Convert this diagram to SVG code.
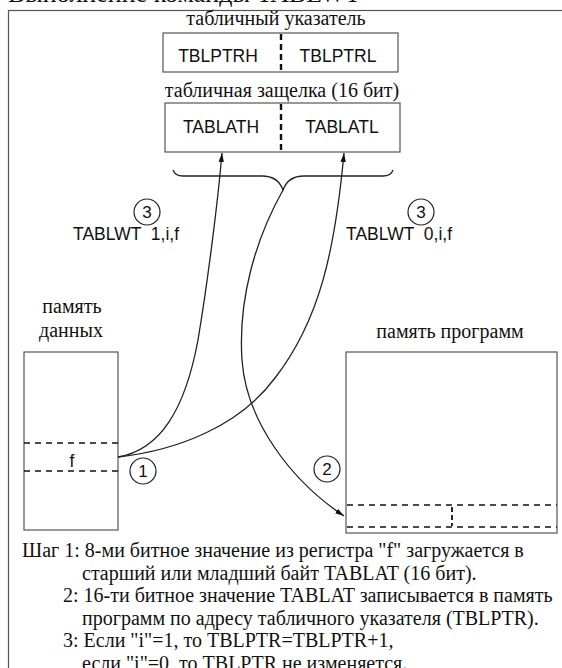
<svg xmlns="http://www.w3.org/2000/svg" width="562" height="668" viewBox="0 0 562 668">
<style>
.serif{font-family:"Liberation Serif","Times New Roman",serif;fill:#111;}
.sans{font-family:"Liberation Sans",Arial,sans-serif;fill:#111;}
.box{fill:#fff;stroke:#555;stroke-width:1.2;}
.dash{stroke:#111;stroke-width:1.6;stroke-dasharray:6 5;fill:none;}
.vdash{stroke:#111;stroke-width:2.4;stroke-dasharray:6 4;fill:none;}
.curve{fill:none;stroke:#222;stroke-width:1.3;}
.circ{fill:#fff;stroke:#222;stroke-width:1.2;}
</style>
<defs>
<marker id="arr" viewBox="0 0 10 6" refX="10" refY="3" markerWidth="9" markerHeight="6" markerUnits="userSpaceOnUse" orient="auto">
<path d="M0,0 L10,3 L0,6 z" fill="#111"/>
</marker>
</defs>
<rect width="562" height="668" fill="#fff"/>
<text class="serif" x="8" y="2" font-size="26">Выполнение команды TABLWT</text>
<rect x="8.5" y="10.5" width="600" height="700" fill="none" stroke="#555" stroke-width="1.2"/>

<g id="tblptr">
<text class="serif" x="276" y="25" font-size="20" text-anchor="middle">табличный указатель</text>
<rect class="box" x="163" y="33" width="235" height="39"/>
<line class="vdash" x1="281" y1="34" x2="281" y2="72"/>
<text class="sans" x="218" y="62" font-size="17.5" text-anchor="middle">TBLPTRH</text>
<text class="sans" x="338" y="62" font-size="17.5" text-anchor="middle">TBLPTRL</text>
</g>

<g id="tablat">
<text class="serif" x="282" y="97" font-size="20" text-anchor="middle">табличная защелка (16 бит)</text>
<rect class="box" x="165" y="103" width="235" height="49"/>
<line class="vdash" x1="281" y1="104" x2="281" y2="152"/>
<text class="sans" x="221" y="133" font-size="17.5" text-anchor="middle">TABLATH</text>
<text class="sans" x="342" y="133" font-size="17.5" text-anchor="middle">TABLATL</text>
</g>

<g id="data-memory">
<text class="serif" x="72" y="313" font-size="20" text-anchor="middle">память</text>
<text class="serif" x="71" y="337" font-size="20" text-anchor="middle">данных</text>
<rect class="box" x="24" y="352" width="94" height="178"/>
<line class="dash" x1="24" y1="443" x2="118" y2="443"/>
<line class="dash" x1="24" y1="471" x2="118" y2="471"/>
<text class="sans" x="72" y="467" font-size="17.5" text-anchor="middle">f</text>
</g>

<g id="program-memory">
<text class="serif" x="450" y="338" font-size="20" text-anchor="middle">память программ</text>
<rect class="box" x="346" y="352" width="211" height="181"/>
<line class="dash" x1="347" y1="505" x2="557" y2="505"/>
<line class="dash" x1="347" y1="527" x2="557" y2="527"/>
<line x1="452" y1="507" x2="452" y2="526" stroke="#111" stroke-width="1.8" stroke-dasharray="5 3"/>
</g>

<g id="connectors">
<path class="curve" d="M173,170 Q175,176 183,176 L262,176 Q278,176 283,190 Q288,176 304,176 L383,176 Q391,176 393,170"/>
<path class="curve" d="M118,457 C160,450 185,410 198,340 C208,280 218,200 222,153" marker-end="url(#arr)"/>
<path class="curve" d="M118,457 C180,450 240,425 275,378 C320,320 335,250 344,153" marker-end="url(#arr)"/>
<path class="curve" d="M283,190 C255,240 238,300 242,360 C246,420 290,480 344,516" marker-end="url(#arr)"/>
</g>

<g id="labels">
<circle class="circ" cx="147" cy="212" r="13"/>
<text class="sans" x="147" y="218" font-size="17" text-anchor="middle">3</text>
<text class="sans" x="73" y="240" font-size="17.5" xml:space="preserve">TABLWT  1,i,f</text>
<circle class="circ" cx="421" cy="212" r="13"/>
<text class="sans" x="421" y="218" font-size="17" text-anchor="middle">3</text>
<text class="sans" x="346" y="240" font-size="17.5" xml:space="preserve">TABLWT  0,i,f</text>
<circle class="circ" cx="143" cy="471" r="13"/>
<text class="sans" x="143" y="477" font-size="17" text-anchor="middle">1</text>
<circle class="circ" cx="327" cy="469" r="13"/>
<text class="sans" x="327" y="475" font-size="17" text-anchor="middle">2</text>
</g>

<g id="notes" class="serif" font-size="20">
<text x="22" y="557">Шаг 1: 8-ми битное значение из регистра "f" загружается в</text>
<text x="82" y="579.5">старший или младший байт TABLAT (16 бит).</text>
<text x="63" y="602">2: 16-ти битное значение TABLAT записывается в память</text>
<text x="82" y="624.5">программ по адресу табличного указателя (TBLPTR).</text>
<text x="63" y="647">3: Если "i"=1, то TBLPTR=TBLPTR+1,</text>
<text x="82" y="669.5">если "i"=0, то TBLPTR не изменяется.</text>
</g>
</svg>
